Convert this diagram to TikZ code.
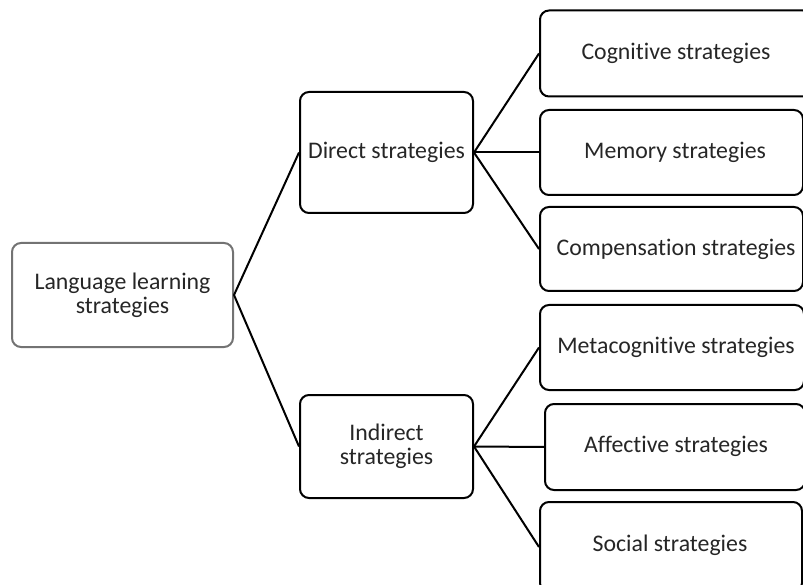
\documentclass[tikz,border=0pt]{standalone}
\usepackage{fontspec}
\setmainfont{Carlito}[Ligatures=NoCommon]
\begin{document}
\begin{tikzpicture}[x=1pt,y=-1pt,
  lbl/.style={font=\fontsize{23.8}{24}\selectfont,text=black!85,align=center,inner sep=0pt},
  box/.style={draw=black,line width=2pt,rounded corners=9pt,fill=white,inner sep=0pt,align=center,font=\fontsize{23.8}{24}\selectfont,text=black!85},
  rootbox/.style={box,draw=black!55},
  link/.style={line width=2pt}]
\useasboundingbox (0,0) rectangle (803,585);
\begin{scope}
\clip (0,0) rectangle (803,585);
\node[rootbox,minimum width=221pt,minimum height=104pt] (root) at (122.5,295) {Language learning\\strategies};
\node[box,minimum width=173pt,minimum height=121pt] (direct) at (386.5,152.5) {Direct strategies};
\node[box,minimum width=173pt,minimum height=103pt] (indirect) at (386.5,446.5) {Indirect\\strategies};
\node[box,minimum width=272pt,minimum height=86pt] (cog) at (676,53.5) {};
\node[lbl] (cogt) at (676,53) {Cognitive strategies};
\node[box,minimum width=263pt,minimum height=85pt] (mem) at (671.5,152.5) {};
\node[lbl] (memt) at (675,152) {Memory strategies};
\node[box,minimum width=263pt,minimum height=84pt] (comp) at (671.5,249) {};
\node[lbl] (compt) at (676,249) {Compensation strategies};
\node[box,minimum width=264pt,minimum height=85pt] (meta) at (672,347.5) {};
\node[lbl] (metat) at (676,347) {Metacognitive strategies};
\node[box,minimum width=260pt,minimum height=86pt] (aff) at (675,447) {};
\node[lbl] (afft) at (676,446) {Affective strategies};
\node[box,minimum width=262pt,minimum height=90pt] (soc) at (671,547) {};
\node[lbl] (soct) at (670,545) {Social strategies};
\draw[link] (root.east) -- (direct.west);
\draw[link] (root.east) -- (indirect.west);
\draw[link] (direct.east) -- (cog.west);
\draw[link] (direct.east) -- (mem.west);
\draw[link] (direct.east) -- (comp.west);
\draw[link] (indirect.east) -- (meta.west);
\draw[link] (indirect.east) -- (aff.west);
\draw[link] (indirect.east) -- (soc.west);
\end{scope}
\end{tikzpicture}
\end{document}
